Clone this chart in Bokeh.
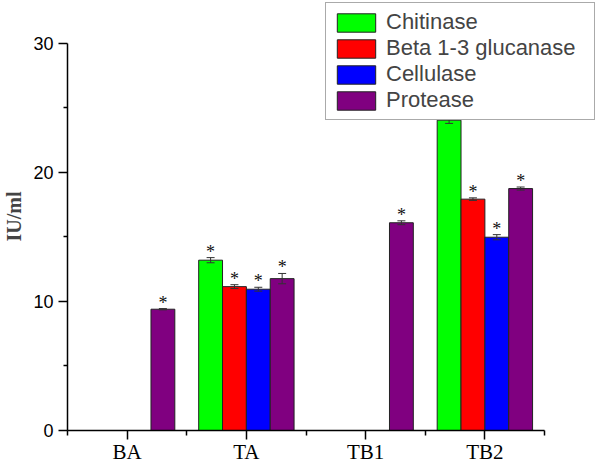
from bokeh.plotting import figure
from bokeh.models import (ColumnDataSource, Range1d, FixedTicker,
                          Legend, LegendItem, LabelSet)
from bokeh.embed import file_html
from bokeh.resources import INLINE

categories = ["BA", "TA", "TB1", "TB2"]
series_names = ["Chitinase", "Beta 1-3 glucanase", "Cellulase", "Protease"]
colors = ["#00FF00", "#FF0000", "#0000FF", "#800080"]

chitinase = [None, 13.2, None, 24.05]
beta_glucanase = [None, 11.15, None, 17.93]
cellulase = [None, 10.95, None, 14.98]
protease = [9.4, 11.77, 16.1, 18.75]

chitinase_err = [None, 0.2, None, 0.25]
beta_glucanase_err = [None, 0.15, None, 0.1]
cellulase_err = [None, 0.15, None, 0.2]
protease_err = [0.05, 0.4, 0.15, 0.12]

values = [chitinase, beta_glucanase, cellulase, protease]
errors = [chitinase_err, beta_glucanase_err, cellulase_err, protease_err]
offsets = [-0.3, -0.1, 0.1, 0.3]
bar_w = 0.2

W, H = 598, 466
frame_left = 67
frame_right_gap = 3
frame_top_gap = 2
frame_w = W - frame_left - frame_right_gap
frame_h = 429          # expected frame height (x axis takes the rest)
top_gap = 41           # pixels between frame top and y = 30
px_per_x = 119.25

p = figure(width=W, height=H, output_backend="svg", toolbar_location=None,
           x_range=Range1d(0, frame_w / px_per_x),
           y_range=Range1d(0, 30 * frame_h / (frame_h - top_gap)),
           min_border_left=frame_left, min_border_bottom=10,
           min_border_top=frame_top_gap, min_border_right=frame_right_gap)
p.outline_line_color = None
p.grid.visible = False
p.background_fill_color = "white"
p.border_fill_color = "white"

items = []
for name, col, vals, errs, off in zip(series_names, colors, values, errors, offsets):
    xs, ys, ups, los, stars = [], [], [], [], []
    for i, (v, e) in enumerate(zip(vals, errs)):
        if v is None:
            continue
        xs.append(i + 0.5 + off)
        ys.append(v)
        ups.append(v + e)
        los.append(v - e)
        stars.append("*")
    bar_src = ColumnDataSource(dict(x=xs, top=ys))
    err_src = ColumnDataSource(dict(x=list(xs), upper=list(ups), lower=list(los)))
    star_src = ColumnDataSource(dict(x=list(xs), y=list(ups), star=stars))
    r = p.vbar(x="x", top="top", width=bar_w, bottom=0, source=bar_src,
               fill_color=col, line_color="#222222", line_width=1)
    items.append(LegendItem(label=name, renderers=[r]))
    p.segment(x0="x", y0="lower", x1="x", y1="upper", source=err_src,
              line_color="#333333", line_width=1)
    p.scatter(x="x", y="upper", source=err_src, marker="dash", size=8,
              line_color="#333333", line_width=1)
    p.scatter(x="x", y="lower", source=err_src, marker="dash", size=8,
              line_color="#333333", line_width=1)
    p.add_layout(LabelSet(x="x", y="y", text="star", source=star_src,
                          text_font="Liberation Sans", text_font_size="18px",
                          text_align="center", text_baseline="alphabetic",
                          y_offset=0, text_color="#111111"))

# axes
xa = p.xaxis[0]
xa.ticker = FixedTicker(ticks=[i + 0.5 for i in range(len(categories))],
                        minor_ticks=[0, 1, 2, 3, 4])
xa.major_label_overrides = {i + 0.5: c for i, c in enumerate(categories)}
xa.bounds = (0, 4)
xa.major_label_text_font = "Liberation Serif"
xa.major_label_text_font_size = "21px"
xa.major_label_text_color = "black"
xa.major_label_standoff = 0
xa.major_tick_out = 9
xa.major_tick_in = 0
xa.minor_tick_out = 5
xa.minor_tick_in = 0
xa.axis_line_width = 1.5
xa.major_tick_line_width = 1.5
xa.minor_tick_line_width = 1.5

ya = p.yaxis[0]
ya.ticker = FixedTicker(ticks=[0, 10, 20, 30], minor_ticks=[5, 15, 25])
ya.bounds = (0, 30)
ya.major_label_text_font = "Liberation Sans"
ya.major_label_text_font_size = "18px"
ya.major_label_text_color = "black"
ya.major_label_standoff = 5
ya.major_tick_out = 9
ya.major_tick_in = 0
ya.minor_tick_out = 4
ya.minor_tick_in = 0
ya.axis_line_width = 1.5
ya.major_tick_line_width = 1.5
ya.minor_tick_line_width = 1.5
ya.axis_label = "IU/ml"
ya.axis_label_text_font = "Liberation Serif"
ya.axis_label_text_font_style = "bold"
ya.axis_label_text_font_size = "20px"
ya.axis_label_standoff = 5

legend = Legend(items=items, location="top_right",
                label_text_font="Liberation Sans", label_text_font_size="22px",
                glyph_width=48, glyph_height=23, label_height=23,
                label_width=202,
                spacing=0, padding=6, margin=0, label_standoff=6,
                border_line_color="#555555", border_line_width=1,
                background_fill_alpha=1)
p.add_layout(legend)

open("out.html", "w").write(file_html(p, INLINE))
